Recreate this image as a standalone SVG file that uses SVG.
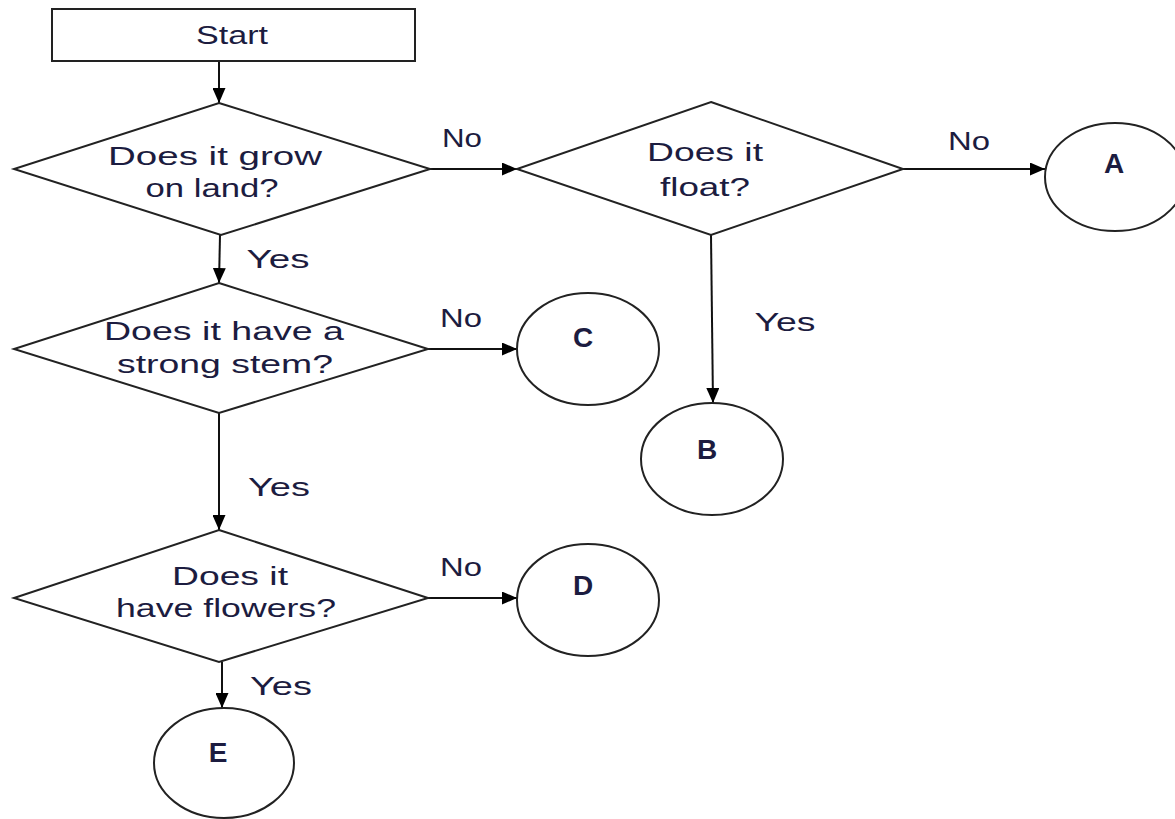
<svg xmlns="http://www.w3.org/2000/svg" width="1175" height="819" viewBox="0 0 1175 819">
<style>
.shape{fill:#fff;stroke:#222;stroke-width:2}
.t{font-family:"Liberation Sans",Arial,sans-serif;font-size:25px;fill:#1c1c40;text-anchor:middle}
.b{font-weight:bold;font-size:28px}
.c{stroke:#111;stroke-width:2;fill:none;marker-end:url(#ah)}
</style>
<defs>
<marker id="ah" markerUnits="userSpaceOnUse" markerWidth="15" markerHeight="13" refX="15" refY="6.5" orient="auto">
<path d="M0,0 L15,6.5 L0,13 z" fill="#000"/>
</marker>
</defs>
<rect width="1175" height="819" fill="#fff"/>
<g id="connectors">
<line class="c" x1="219" y1="61" x2="219" y2="103"/>
<line class="c" x1="430" y1="169" x2="517" y2="169"/>
<line class="c" x1="903" y1="169" x2="1045" y2="169"/>
<line class="c" x1="711" y1="235" x2="713" y2="403"/>
<line class="c" x1="220" y1="235" x2="219" y2="283"/>
<line class="c" x1="428" y1="349" x2="517" y2="349"/>
<line class="c" x1="219" y1="413" x2="219" y2="530"/>
<line class="c" x1="428" y1="598" x2="517" y2="598"/>
<line class="c" x1="222" y1="662" x2="222" y2="708"/>
<text class="t" x="462" y="147" textLength="40" lengthAdjust="spacingAndGlyphs">No</text>
<text class="t" x="969" y="150" textLength="42" lengthAdjust="spacingAndGlyphs">No</text>
<text class="t" x="278" y="268" textLength="63" lengthAdjust="spacingAndGlyphs">Yes</text>
<text class="t" x="785" y="331" textLength="61" lengthAdjust="spacingAndGlyphs">Yes</text>
<text class="t" x="461" y="327" textLength="42" lengthAdjust="spacingAndGlyphs">No</text>
<text class="t" x="279" y="496" textLength="62" lengthAdjust="spacingAndGlyphs">Yes</text>
<text class="t" x="461" y="576" textLength="42" lengthAdjust="spacingAndGlyphs">No</text>
<text class="t" x="281" y="695" textLength="62" lengthAdjust="spacingAndGlyphs">Yes</text>
</g>
<g id="start">
<rect class="shape" x="52" y="9" width="363" height="52"/>
<text class="t" x="232" y="44" textLength="72" lengthAdjust="spacingAndGlyphs">Start</text>
</g>
<g id="q-land">
<polygon class="shape" points="219,103 430,169 221,235 14,169"/>
<text class="t" x="215" y="165" textLength="214" lengthAdjust="spacingAndGlyphs">Does it grow</text>
<text class="t" x="212" y="197" textLength="133" lengthAdjust="spacingAndGlyphs">on land?</text>
</g>
<g id="q-float">
<polygon class="shape" points="711,102 903,169 711,235 517,169"/>
<text class="t" x="705" y="161" textLength="116" lengthAdjust="spacingAndGlyphs">Does it</text>
<text class="t" x="705" y="196" textLength="90" lengthAdjust="spacingAndGlyphs">float?</text>
</g>
<g id="a">
<ellipse class="shape" cx="1115" cy="177" rx="70" ry="54"/>
<text class="t b" x="1114" y="173">A</text>
</g>
<g id="q-stem">
<polygon class="shape" points="219,283 428,349 219,413 14,349"/>
<text class="t" x="224" y="340" textLength="240" lengthAdjust="spacingAndGlyphs">Does it have a</text>
<text class="t" x="225" y="373" textLength="216" lengthAdjust="spacingAndGlyphs">strong stem?</text>
</g>
<g id="c">
<ellipse class="shape" cx="588" cy="349" rx="71" ry="56"/>
<text class="t b" x="583" y="347">C</text>
</g>
<g id="b">
<ellipse class="shape" cx="712" cy="459" rx="71" ry="56"/>
<text class="t b" x="707" y="459">B</text>
</g>
<g id="q-flowers">
<polygon class="shape" points="219,530 428,598 219,662 14,598"/>
<text class="t" x="230" y="585" textLength="116" lengthAdjust="spacingAndGlyphs">Does it</text>
<text class="t" x="226" y="617" textLength="220" lengthAdjust="spacingAndGlyphs">have flowers?</text>
</g>
<g id="d">
<ellipse class="shape" cx="588" cy="600" rx="71" ry="56"/>
<text class="t b" x="583" y="595">D</text>
</g>
<g id="e">
<ellipse class="shape" cx="224" cy="763" rx="70" ry="55"/>
<text class="t b" x="218" y="762">E</text>
</g>
</svg>
